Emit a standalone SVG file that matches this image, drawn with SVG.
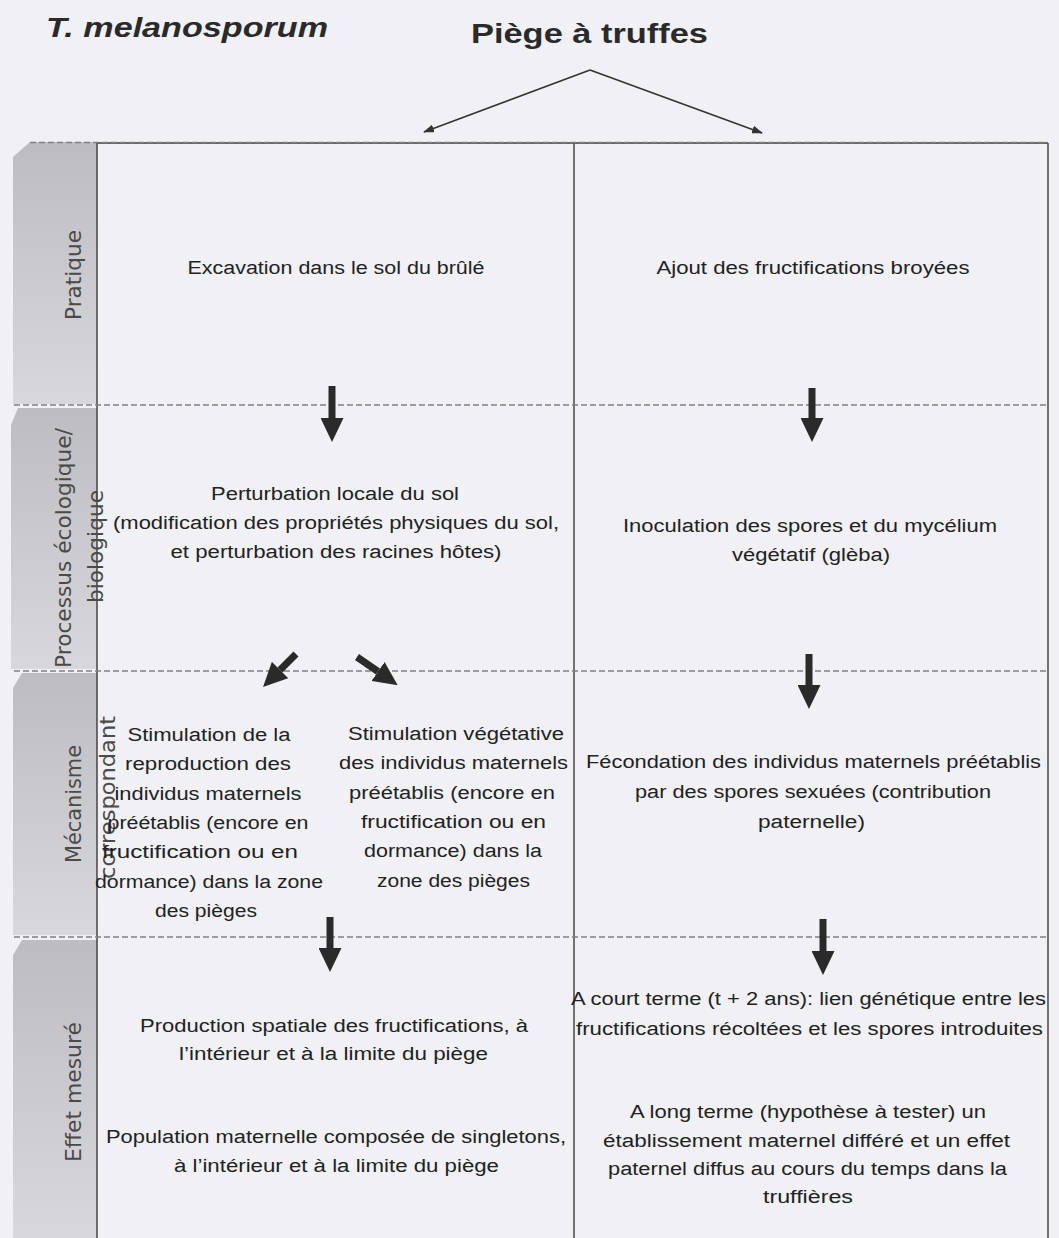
<svg xmlns="http://www.w3.org/2000/svg" width="1059" height="1238" viewBox="0 0 1059 1238">
<style>
.t{font-family:"Liberation Sans",Arial,sans-serif;font-size:18px;fill:#222;text-anchor:middle;}
.lab{font-family:"DejaVu Sans",Verdana,sans-serif;font-size:21px;fill:#4a4a4a;text-anchor:middle;}
.title{font-family:"Liberation Sans",Arial,sans-serif;font-size:28px;font-weight:bold;fill:#2a2a2a;}
.dash{stroke:#808084;stroke-width:1.5;stroke-dasharray:6 3;fill:none;}
.box{stroke:#3a3a3a;stroke-width:1.4;fill:none;}
.tab{fill:url(#tabg);}
.thick{stroke:#2a2a2a;stroke-width:7;fill:none;marker-end:url(#big);}
.thin{stroke:#333;stroke-width:1.5;fill:none;marker-end:url(#small);}
</style>
<defs>
<linearGradient id="tabg" x1="0" y1="0" x2="0" y2="1">
<stop offset="0" stop-color="#bdbdc1"/>
<stop offset="1" stop-color="#d8d8dc"/>
</linearGradient>
<marker id="big" markerUnits="userSpaceOnUse" viewBox="0 0 24 23" markerWidth="24" markerHeight="23" refX="0" refY="11.5" orient="auto">
<path d="M0,0 L24,11.5 L0,23 z" fill="#2a2a2a"/>
</marker>
<marker id="small" markerUnits="userSpaceOnUse" viewBox="0 0 11 8" markerWidth="11" markerHeight="8" refX="10" refY="4" orient="auto">
<path d="M0,0 L11,4 L0,8 z" fill="#333"/>
</marker>
</defs>
<rect x="0" y="0" width="1059" height="1238" fill="#f0f0f5"/>

<g id="titles">
<text class="title" x="46" y="37" font-style="italic" textLength="282" lengthAdjust="spacingAndGlyphs">T. melanosporum</text>
<text class="title" x="471" y="42.5" textLength="237" lengthAdjust="spacingAndGlyphs">Piège à truffes</text>
</g>

<g id="tabs">
<polygon class="tab" points="30,142 97,142 97,404 13,404 13,157"/>
<polygon class="tab" points="18,408 97,408 97,669 11,669 11,425"/>
<polygon class="tab" points="22,673 97,673 97,935 13,935 13,688"/>
<polygon class="tab" points="22,940 97,940 97,1238 13,1238 13,955"/>
</g>

<g id="grid">
<line class="box" x1="97" y1="143" x2="1048" y2="143"/>
<line class="box" x1="97" y1="143" x2="97" y2="1238"/>
<line class="box" x1="574" y1="143" x2="574" y2="1238"/>
<line class="box" x1="1048" y1="143" x2="1048" y2="1238"/>
<line class="dash" x1="30" y1="142.5" x2="1048" y2="142.5"/>
<line class="dash" x1="14" y1="405" x2="1048" y2="405"/>
<line class="dash" x1="14" y1="671" x2="1048" y2="671"/>
<line class="dash" x1="14" y1="937" x2="1048" y2="937"/>
</g>

<g id="row-labels">
<text class="lab" transform="translate(81,275) rotate(-90)" textLength="90" lengthAdjust="spacingAndGlyphs">Pratique</text>
<text class="lab" transform="translate(71,548) rotate(-90)" textLength="240" lengthAdjust="spacingAndGlyphs">Processus écologique/</text>
<text class="lab" transform="translate(103,546.5) rotate(-90)" textLength="113" lengthAdjust="spacingAndGlyphs">biologique</text>
<text class="lab" transform="translate(81,804) rotate(-90)" textLength="118" lengthAdjust="spacingAndGlyphs">Mécanisme</text>
<text class="lab" transform="translate(115,797.5) rotate(-90)" textLength="163" lengthAdjust="spacingAndGlyphs">correspondant</text>
<text class="lab" transform="translate(81,1092) rotate(-90)" textLength="140" lengthAdjust="spacingAndGlyphs">Effet mesuré</text>
</g>

<g id="n-excavation">
<text class="t" x="336" y="274" textLength="297" lengthAdjust="spacingAndGlyphs">Excavation dans le sol du brûlé</text>
</g>
<g id="n-ajout">
<text class="t" x="813" y="274" textLength="313" lengthAdjust="spacingAndGlyphs">Ajout des fructifications broyées</text>
</g>
<g id="n-perturbation">
<text class="t" x="335" y="500" textLength="248" lengthAdjust="spacingAndGlyphs">Perturbation locale du sol</text>
<text class="t" x="336" y="529" textLength="446" lengthAdjust="spacingAndGlyphs">(modification des propriétés physiques du sol,</text>
<text class="t" x="336" y="558" textLength="331" lengthAdjust="spacingAndGlyphs">et perturbation des racines hôtes)</text>
</g>
<g id="n-inoculation">
<text class="t" x="810" y="532" textLength="374" lengthAdjust="spacingAndGlyphs">Inoculation des spores et du mycélium</text>
<text class="t" x="811" y="561" textLength="158" lengthAdjust="spacingAndGlyphs">végétatif (glèba)</text>
</g>
<g id="n-stim-repro">
<text class="t" x="209" y="741" textLength="163" lengthAdjust="spacingAndGlyphs">Stimulation de la</text>
<text class="t" x="208" y="770" textLength="166" lengthAdjust="spacingAndGlyphs">reproduction des</text>
<text class="t" x="208" y="799.5" textLength="187" lengthAdjust="spacingAndGlyphs">individus maternels</text>
<text class="t" x="208" y="829" textLength="201" lengthAdjust="spacingAndGlyphs">préétablis (encore en</text>
<text class="t" x="200" y="858" textLength="196" lengthAdjust="spacingAndGlyphs">fructification ou en</text>
<text class="t" x="209" y="887.5" textLength="228" lengthAdjust="spacingAndGlyphs">dormance) dans la zone</text>
<text class="t" x="206" y="917" textLength="102" lengthAdjust="spacingAndGlyphs">des pièges</text>
</g>
<g id="n-stim-veg">
<text class="t" x="456" y="740" textLength="216" lengthAdjust="spacingAndGlyphs">Stimulation végétative</text>
<text class="t" x="453.5" y="769" textLength="229" lengthAdjust="spacingAndGlyphs">des individus maternels</text>
<text class="t" x="452" y="798.5" textLength="206" lengthAdjust="spacingAndGlyphs">préétablis (encore en</text>
<text class="t" x="453.5" y="828" textLength="185" lengthAdjust="spacingAndGlyphs">fructification ou en</text>
<text class="t" x="453" y="857" textLength="178" lengthAdjust="spacingAndGlyphs">dormance) dans la</text>
<text class="t" x="453.5" y="887" textLength="153" lengthAdjust="spacingAndGlyphs">zone des pièges</text>
</g>
<g id="n-fecondation">
<text class="t" x="813.5" y="768" textLength="455" lengthAdjust="spacingAndGlyphs">Fécondation des individus maternels préétablis</text>
<text class="t" x="813" y="798" textLength="356" lengthAdjust="spacingAndGlyphs">par des spores sexuées (contribution</text>
<text class="t" x="811.5" y="828" textLength="107" lengthAdjust="spacingAndGlyphs">paternelle)</text>
</g>
<g id="n-production">
<text class="t" x="334" y="1032" textLength="388" lengthAdjust="spacingAndGlyphs">Production spatiale des fructifications, à</text>
<text class="t" x="333.5" y="1060" textLength="309" lengthAdjust="spacingAndGlyphs">l’intérieur et à la limite du piège</text>
</g>
<g id="n-population">
<text class="t" x="336" y="1143" textLength="460" lengthAdjust="spacingAndGlyphs">Population maternelle composée de singletons,</text>
<text class="t" x="336.5" y="1172" textLength="325" lengthAdjust="spacingAndGlyphs">à l’intérieur et à la limite du piège</text>
</g>
<g id="n-court-terme">
<text class="t" x="808.5" y="1005" textLength="475" lengthAdjust="spacingAndGlyphs">A court terme (t + 2 ans): lien génétique entre les</text>
<text class="t" x="809.5" y="1035" textLength="467" lengthAdjust="spacingAndGlyphs">fructifications récoltées et les spores introduites</text>
</g>
<g id="n-long-terme">
<text class="t" x="808" y="1118" textLength="356" lengthAdjust="spacingAndGlyphs">A long terme (hypothèse à tester) un</text>
<text class="t" x="806.5" y="1147" textLength="407" lengthAdjust="spacingAndGlyphs">établissement maternel différé et un effet</text>
<text class="t" x="807.5" y="1175" textLength="399" lengthAdjust="spacingAndGlyphs">paternel diffus au cours du temps dans la</text>
<text class="t" x="808" y="1203" textLength="90" lengthAdjust="spacingAndGlyphs">truffières</text>
</g>

<g id="connectors">
<line class="thin" x1="590" y1="70" x2="424" y2="132"/>
<line class="thin" x1="590" y1="70" x2="762" y2="133"/>
<line class="thick" x1="332" y1="386" x2="332" y2="418"/>
<line class="thick" x1="812" y1="388" x2="812" y2="418"/>
<line class="thick" x1="296" y1="654" x2="280" y2="670"/>
<line class="thick" x1="357" y1="657" x2="378" y2="671.5"/>
<line class="thick" x1="809" y1="654" x2="809" y2="685"/>
<line class="thick" x1="330" y1="917" x2="330" y2="948"/>
<line class="thick" x1="823" y1="919" x2="823" y2="951"/>
</g>
</svg>
